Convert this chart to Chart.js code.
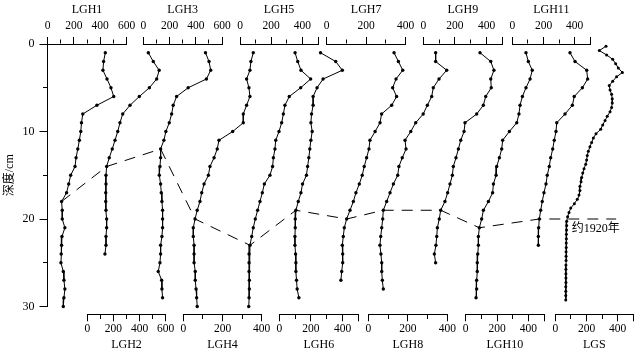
<!DOCTYPE html>
<html><head><meta charset="utf-8">
<script src="https://cdn.jsdelivr.net/npm/chart.js@4/dist/chart.umd.min.js"></script>
<style>html,body{margin:0;padding:0;background:#fff;}canvas{display:block;}</style>
</head><body>
<canvas id="c" width="640" height="355"></canvas>
<script>
// ---------------- data ----------------
const seriesNames = ['LGH1','LGH2','LGH3','LGH4','LGH5','LGH6','LGH7','LGH8','LGH9','LGH10','LGH11','LGS'];
const axisMax     = [600, 600, 600, 400, 500, 500, 400, 400, 500, 500, 500, 500];
const depthTicks  = [0, 5, 10, 15, 20, 25, 30];

const depthCm = [1,2,3,4,5,6,7,8,9,10,11,12,13,14,15,16,17,18,19,20,21,22,23,24,25,26,27,28,29,30];
const lgsDepthCm = [0.25,0.75,1.25,1.75,2.25,2.75,3.25,3.75,4.25,4.75,5.25,5.75,6.25,6.75,7.25,7.75,8.25,8.75,9.25,9.75,
  10.25,10.75,11.25,11.75,12.25,12.75,13.25,13.75,14.25,14.75,15.25,15.75,16.25,16.75,17.25,17.75,18.25,18.75,19.25,19.75,
  20.25,20.75,21.25,21.75,22.25,22.75,23.25,23.75,24.25,24.75,25.25,25.75,26.25,26.75,27.25,27.75,28.25,28.75,29.25];

const LGH1  = [439,426,421,452,482,503,375,268,258,253,242,230,217,209,176,161,145,107,112,112,132,110,107,104,102,120,125,132,125,120];
const LGH2  = [467,505,550,531,475,398,327,271,250,233,212,191,168,148,143,143,141,141,143,148,148,143,143,135];
const LGH3  = [474,501,514,481,342,254,228,216,198,172,157,132,132,127,122,132,137,142,147,147,147,142,132,132,127,114,140,142,147];
const LGH4  = [357,345,340,323,335,340,323,306,306,252,182,173,157,136,128,106,94,85,71,60,51,51,55,55,55,61,61,65,68,71];
const LGH5  = [353,370,391,453,389,316,288,278,267,250,229,224,214,209,192,156,143,128,113,98,85,75,64,58,58,58,60,60,58,56];
const LGH6  = [261,357,399,277,239,214,214,204,200,208,200,193,187,179,172,147,137,120,105,101,101,99,99,103,105,105,109,113,124];
const LGH7  = [341,363,385,351,334,354,329,278,270,245,219,214,202,190,180,165,148,135,118,101,89,84,79,81,81,76,72];
const LGH8  = [341,341,397,358,329,321,299,278,240,215,186,191,172,155,149,127,110,93,76,73,68,63,59,64,68,68,71,76];
const LGH9  = [359,427,447,427,430,395,380,338,264,258,237,222,207,190,184,169,154,137,110,101,89,85,80,70,78];
const LGH10 = [385,400,425,411,385,362,347,340,326,279,236,230,215,198,194,177,172,145,113,102,87,81,81,77,74,74,70,70,66];
const LGH11 = [370,402,477,483,449,397,385,338,285,280,269,259,246,237,224,216,203,192,182,173,169,167,167];
const LGS   = [325,282,329,368,387,404,430,393,368,346,351,361,365,365,361,351,333,319,304,291,
  261,244,233,222,212,205,201,195,184,176,169,165,158,158,152,141,122,99,88,79,
  73,73,72,71,71,70,70,69,69,69,68,68,68,68,68,67,67,67,67];

const seriesValues = [LGH1,LGH2,LGH3,LGH4,LGH5,LGH6,LGH7,LGH8,LGH9,LGH10,LGH11,LGS];
const seriesDepths = seriesValues.map((v,i) => i === 11 ? lgsDepthCm : depthCm.slice(0, v.length));

// ~1920 horizon: depth (cm) at which each profile is crossed
const horizonDepth = [18, 14, 12, 20, 23, 19, 20, 19, 19, 21, 20, 20];
const horizonTail = { value: 390, depth: 20 };            // on the LGS scale
const horizonLabel = { text: '约1920年', value: 105, depth: 21.1 };

// ---------------- layout (pixels) ----------------
const axisSpan = [[47.5,126.5],[87.3,165.7],[143.3,222],[183.3,261.7],[240,318],[279.3,358.3],
                  [326.7,405.7],[368.3,447.3],[423.3,502.3],[465.7,544],[512.3,590.3],[555.3,633.3]];
const TOP_AXIS_Y = 44, BOTTOM_AXIS_Y = 314.3, H = 355;
const isTop = i => i % 2 === 0;
const SERIF = '"Liberation Serif","DejaVu Serif",serif';
const CJK = '"Liberation Serif","Noto Sans CJK SC",serif';

function valueAtDepth(ds, vs, d) {
  for (let k = 0; k < ds.length - 1; k++) {
    if (d >= ds[k] && d <= ds[k+1]) {
      const t = (d - ds[k]) / (ds[k+1] - ds[k]);
      return vs[k] + t * (vs[k+1] - vs[k]);
    }
  }
  return vs[vs.length-1];
}

const scales = {
  y: {
    type: 'linear', position: 'left', reverse: true, min: 0, max: 30,
    afterFit: s => { s.width = 47.5; },
    afterBuildTicks: s => { s.ticks = depthTicks.map(v => ({value: v})); },
    ticks: { autoSkip: false, padding: 5, color: '#000', font: {family: SERIF, size: 12},
      callback: v => (v % 10 === 0 ? String(v) : '') },
    grid: { drawOnChartArea: false, drawTicks: true, tickLength: 8, tickColor: '#000', tickWidth: 1,
      tickBorderDash: ctx => (ctx.tick && ctx.tick.value % 10 === 0) ? [] : [0, 3.5, 4, 100] },
    border: { display: true, color: '#000', width: 1 },
    title: { display: true, text: '深度/cm', color: '#000', font: {family: CJK, size: 12}, padding: {top: 3, bottom: 0} }
  }
};
seriesNames.forEach((n, i) => {
  const top = isTop(i);
  const mx = axisMax[i];
  scales['x' + i] = {
    type: 'linear', position: top ? 'top' : 'bottom', min: 0, max: mx,
    afterFit: s => { s.height = 0; },
    ticks: { stepSize: 100, autoSkip: false, maxRotation: 0, minRotation: 0, padding: top ? 4 : 1, color: '#000',
      font: {family: SERIF, size: 11.5}, callback: v => (v % 200 === 0 ? String(v) : '') },
    grid: { drawOnChartArea: false, drawTicks: true, tickLength: 7, tickColor: '#000', tickWidth: 1,
      tickBorderDash: ctx => {
        const v = ctx.tick ? ctx.tick.value : 0;
        if (v % 200 === 0 || v === mx) return [];
        return top ? [0, 2.5, 4, 100] : [4, 100];
      } },
    border: { display: true, color: '#000', width: 1 },
    title: { display: true, text: n, color: '#000', font: {family: SERIF, size: 12},
      padding: top ? {top: 3, bottom: 0} : {top: 0, bottom: 2.5} }
  };
});

const axisPlacer = {
  id: 'axisPlacer',
  afterLayout(chart) {
    seriesNames.forEach((n, i) => {
      const s = chart.scales['x' + i];
      s.left = axisSpan[i][0]; s.right = axisSpan[i][1]; s.width = s.right - s.left;
      if (isTop(i)) { s.top = 0; s.bottom = TOP_AXIS_Y; }
      else { s.top = BOTTOM_AXIS_Y; s.bottom = H; }
      s.height = s.bottom - s.top;
      s._labelItems = null; s._gridLineItems = null;
      s.configure();
    });
  }
};

const horizonPlugin = {
  id: 'horizon',
  afterDatasetsDraw(chart) {
    const ctx = chart.ctx, y = chart.scales.y;
    const pts = seriesNames.map((n, i) => {
      const d = horizonDepth[i];
      const v = valueAtDepth(seriesDepths[i], seriesValues[i], d);
      return [chart.scales['x' + i].getPixelForValue(v), y.getPixelForValue(d)];
    });
    const lgsScale = chart.scales['x' + (seriesNames.length - 1)];
    pts.push([lgsScale.getPixelForValue(horizonTail.value), y.getPixelForValue(horizonTail.depth)]);
    ctx.save();
    ctx.strokeStyle = '#000'; ctx.lineWidth = 1; ctx.setLineDash([11, 8]);
    ctx.beginPath();
    pts.forEach((p, k) => k ? ctx.lineTo(p[0], p[1]) : ctx.moveTo(p[0], p[1]));
    ctx.stroke();
    ctx.setLineDash([]);
    ctx.fillStyle = '#000';
    ctx.font = '12px ' + CJK;
    ctx.textBaseline = 'middle'; ctx.textAlign = 'left';
    ctx.fillText(horizonLabel.text, lgsScale.getPixelForValue(horizonLabel.value), y.getPixelForValue(horizonLabel.depth));
    ctx.restore();
  }
};

new Chart(document.getElementById('c'), {
  type: 'scatter',
  data: {
    datasets: seriesNames.map((n, i) => ({
      label: n, xAxisID: 'x' + i, yAxisID: 'y',
      data: seriesValues[i].map((v, k) => ({x: v, y: seriesDepths[i][k]})),
      showLine: true, tension: 0, clip: false,
      borderColor: '#000', borderWidth: 1,
      pointRadius: i === 11 ? 1.5 : 1.7, pointBorderWidth: 0, pointBackgroundColor: '#000', pointHoverRadius: 0
    }))
  },
  options: {
    responsive: false, animation: false, events: [],
    layout: { padding: { top: TOP_AXIS_Y, bottom: H - 306.5, left: 0, right: 6 } },
    plugins: { legend: {display: false}, tooltip: {enabled: false} },
    scales
  },
  plugins: [axisPlacer, horizonPlugin]
});
</script>
</body></html>
